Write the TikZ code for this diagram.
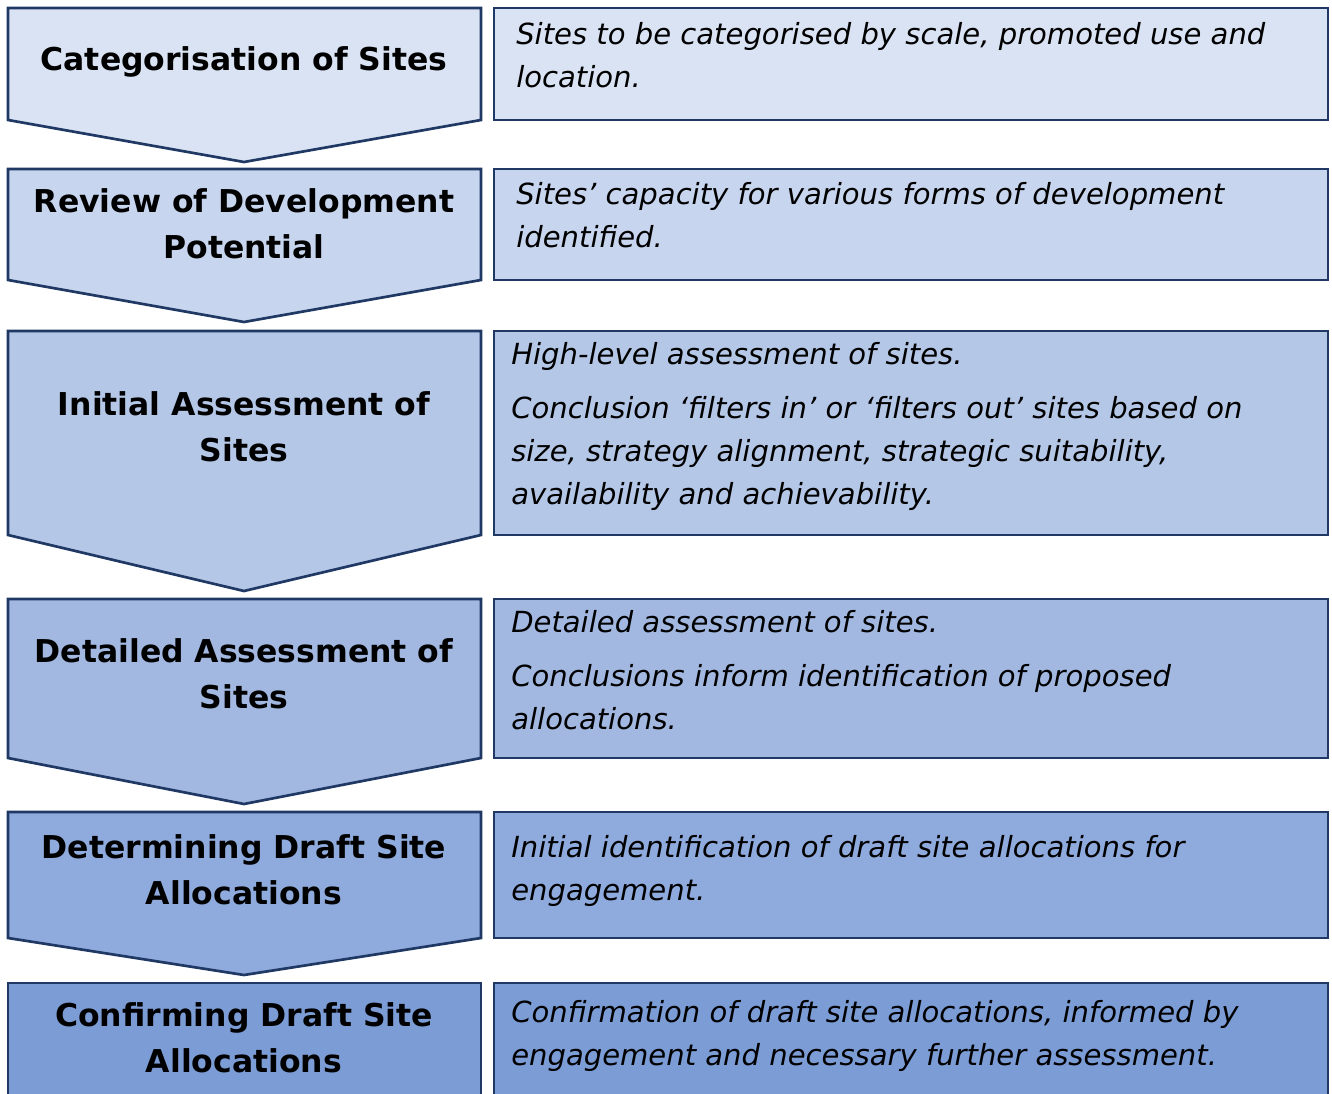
\documentclass[tikz,border=0pt]{standalone}
\usepackage{fontspec}
\setmainfont{DejaVu Sans}
\definecolor{navy}{HTML}{1F3864}
\definecolor{blueA}{HTML}{DAE3F3}
\definecolor{blueB}{HTML}{C7D5EE}
\definecolor{blueC}{HTML}{B4C7E7}
\definecolor{blueD}{HTML}{A2B8E1}
\definecolor{blueE}{HTML}{8FAADC}
\definecolor{blueF}{HTML}{7C9CD6}
\tikzset{
  stage/.style={draw=navy, line width=2pt, line join=miter},
  steptitle/.style={anchor=base, align=center, inner sep=0pt, font=\fontsize{23.6}{34.5}\selectfont\bfseries},
  stepnote/.style={anchor=base west, align=left, inner sep=0pt, font=\fontsize{21.8}{31.9}\selectfont\itshape}
}
\begin{document}
\begin{tikzpicture}[x=0.75pt, y=-0.75pt]
		\useasboundingbox (0,0) rectangle (1332,1093);
		\clip (0,0) rectangle (1332,1093);

		% left column: chevrons
		\draw[stage, fill=blueA] (8,8) -- (481,8) -- (481,120) -- (244,162) -- (8,120) -- cycle;
		\draw[stage, fill=blueB] (8,169) -- (481,169) -- (481,280) -- (244,322) -- (8,280) -- cycle;
		\draw[stage, fill=blueC] (8,331) -- (481,331) -- (481,535) -- (244,591) -- (8,535) -- cycle;
		\draw[stage, fill=blueD] (8,599) -- (481,599) -- (481,758) -- (244,804) -- (8,758) -- cycle;
		\draw[stage, fill=blueE] (8,812) -- (481,812) -- (481,938) -- (244,975) -- (8,938) -- cycle;
		\draw[stage, fill=blueF] (8,983) -- (481,983) -- (481,1150) -- (8,1150) -- cycle;

		% right column: boxes
		\draw[stage, fill=blueA] (494,8) rectangle (1328,120);
		\draw[stage, fill=blueB] (494,169) rectangle (1328,280);
		\draw[stage, fill=blueC] (494,331) rectangle (1328,535);
		\draw[stage, fill=blueD] (494,599) rectangle (1328,758);
		\draw[stage, fill=blueE] (494,812) rectangle (1328,938);
		\draw[stage, fill=blueF] (494,983) rectangle (1328,1150);

		% stage titles (anchored on the last line)
		\node[steptitle] (cat) at (244,70) {Categorisation of Sites};
		\node[steptitle] (review) at (244,258) {Review of Development\\Potential};
		\node[steptitle] (initial) at (244,461) {Initial Assessment of\\Sites};
		\node[steptitle] (detailed) at (244,708) {Detailed Assessment of\\Sites};
		\node[steptitle] (determ) at (244,904) {Determining Draft Site\\Allocations};
		\node[steptitle] (confirm) at (244,1072) {Confirming Draft Site\\Allocations};

		% notes (anchored on the last line)
		\node[stepnote] (catnote) at (516,87) {Sites to be categorised by scale, promoted use and\\location.};
		\node[stepnote] (reviewnote) at (516,247) {Sites’ capacity for various forms of development\\identified.};
		\node[stepnote] (initialnote) at (511,504) {High-level assessment of sites.\\[8.6pt]Conclusion ‘filters in’ or ‘filters out’ sites based on\\size, strategy alignment, strategic suitability,\\availability and achievability.};
		\node[stepnote] (detailednote) at (511,729) {Detailed assessment of sites.\\[8.6pt]Conclusions inform identification of proposed\\allocations.};
		\node[stepnote] (determnote) at (511,900) {Initial identification of draft site allocations for\\engagement.};
		\node[stepnote] (confirmnote) at (511,1065) {Confirmation of draft site allocations, informed by\\engagement and necessary further assessment.};
\end{tikzpicture}
\end{document}
